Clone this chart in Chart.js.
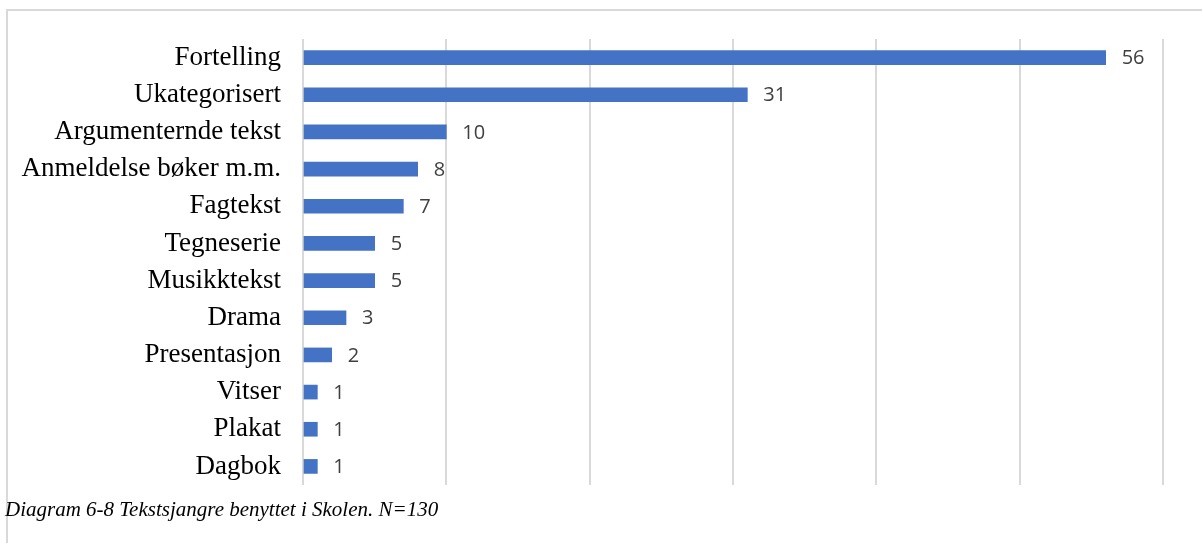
<!DOCTYPE html>
<html>
<head>
<meta charset="utf-8">
<script src="https://cdn.jsdelivr.net/npm/chart.js@4"></script>
<style>
  body { margin: 0; background: #fff; }
  #wrap { position: relative; width: 1202px; height: 543px; overflow: hidden; }
  #frame { position: absolute; left: 6px; top: 9px; width: 1196px; height: 534px;
           border-top: 2px solid #d9d9d9; border-left: 2px solid #d9d9d9; box-sizing: border-box; }
  #chart { position: absolute; left: 0; top: 0; }
  #caption { position: absolute; left: 5px; top: 497px; font: italic 21px "Liberation Serif", "Times New Roman", serif;
             color: #000; white-space: nowrap; }
</style>
</head>
<body>
<div id="wrap">
  <div id="frame"></div>
  <canvas id="chart" width="1202" height="543"></canvas>
  <div id="caption">Diagram 6-8 Tekstsjangre benyttet i Skolen. N=130</div>
</div>
<script>
// Tekstsjangre (antall tekster)
var genres = ["Fortelling", "Ukategorisert", "Argumenternde tekst", "Anmeldelse bøker m.m.", "Fagtekst",
              "Tegneserie", "Musikktekst", "Drama", "Presentasjon", "Vitser", "Plakat", "Dagbok"];
var counts = [56, 31, 10, 8, 7, 5, 5, 3, 2, 1, 1, 1];
var xTicks = [0, 10, 20, 30, 40, 50, 60];

// value labels to the right of each bar
var barValues = {
    id: 'barValues',
    afterDatasetsDraw: function (chart) {
        var c = chart.ctx;
        var meta = chart.getDatasetMeta(0);
        c.save();
        c.font = '20px "Open Sans", sans-serif';
        c.fillStyle = '#404040';
        c.textAlign = 'left';
        c.textBaseline = 'middle';
        meta.data.forEach(function (bar, i) {
            c.fillText(counts[i], bar.x + 16, bar.y + 1);
        });
        c.restore();
    }
};

var ctx = document.getElementById('chart').getContext('2d');
var myChart = new Chart(ctx, {
    type: 'bar',
    data: {
        labels: genres,
        datasets: [{
            data: counts,
            backgroundColor: '#4472c4',
            borderWidth: 0,
            barThickness: 14
        }]
    },
    options: {
        indexAxis: 'y',
        responsive: false,
        animation: false,
        layout: { padding: { left: 10, top: 39, right: 39, bottom: 58 } },
        plugins: { legend: { display: false }, tooltip: { enabled: false } },
        scales: {
            x: {
                min: xTicks[0],
                max: xTicks[xTicks.length - 1],
                afterBuildTicks: function (s) { s.ticks = xTicks.map(function (v) { return { value: v }; }); },
                ticks: { display: false },
                grid: { color: '#d9d9d9', lineWidth: 2, drawTicks: false },
                border: { display: false }
            },
            y: {
                afterFit: function (s) { s.width = 293; },
                ticks: {
                    color: '#000',
                    padding: 22,
                    font: { family: '"Liberation Serif", "Times New Roman", serif', size: 27 }
                },
                grid: { display: false, drawTicks: false },
                border: { display: false }
            }
        }
    },
    plugins: [barValues]
});
</script>
</body>
</html>
